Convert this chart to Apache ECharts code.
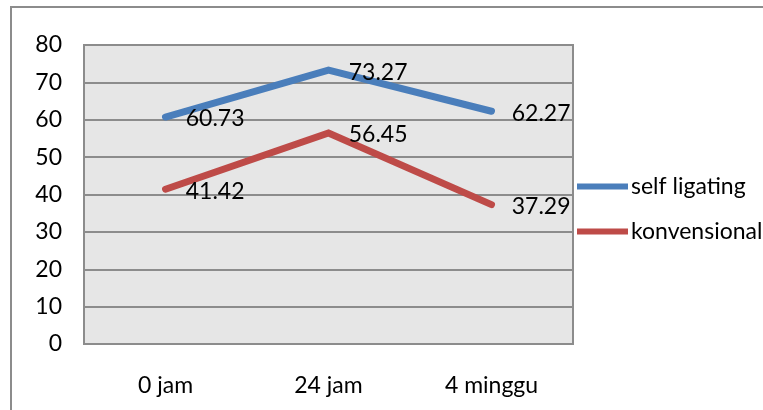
<!DOCTYPE html>
<html><head><meta charset="utf-8">
<script src="https://cdn.jsdelivr.net/npm/echarts@6/dist/echarts.min.js"></script>
<style>html,body{margin:0;padding:0;background:#fff}#c{width:763px;height:410px}</style>
</head><body><div id="c"></div>
<script>
var categories = ['0 jam', '24 jam', '4 minggu'];
var selfLigating = [60.73, 73.27, 62.27];
var konvensional = [41.42, 56.45, 37.29];
var seriesNames = ['self ligating', 'konvensional'];
var yTicks = [0, 80, 10];

var font = 'Lato';
var fs = 23;
var chart = echarts.init(document.getElementById('c'), null, {renderer: 'canvas'});
var lbl = {show: true, position: 'right', distance: 20, offset: [0, 2], color: '#000', fontSize: fs, fontFamily: font,
  formatter: function (p) { return Number(p.value).toFixed(2); }};
chart.setOption({
  animation: false,
  graphic: [{type: 'rect', shape: {x: 11, y: 7, width: 800, height: 450},
    style: {fill: 'none', stroke: '#8c8c8c', lineWidth: 2}, z: -10}],
  grid: {left: 84, top: 45, width: 489, height: 299, backgroundColor: '#e6e6e6', show: true,
    borderColor: '#8c8c8c', borderWidth: 2},
  legend: {orient: 'vertical', left: 577, top: 175, padding: 0, itemGap: 22, itemWidth: 51, itemHeight: 6,
    icon: 'rect', textStyle: {fontSize: fs, fontFamily: font, color: '#000', padding: [0, 0, 0, -2]},
    data: seriesNames},
  xAxis: {type: 'category', data: categories, boundaryGap: true,
    axisLine: {show: false}, axisTick: {show: false},
    axisLabel: {margin: 30, fontSize: fs, fontFamily: font, color: '#000'}},
  yAxis: {type: 'value', min: yTicks[0], max: yTicks[1], interval: yTicks[2],
    axisLine: {show: false}, axisTick: {show: false},
    axisLabel: {margin: 22, fontSize: fs, fontFamily: font, color: '#000'},
    splitLine: {lineStyle: {color: '#8c8c8c', width: 2}}},
  series: [
    {name: seriesNames[0], type: 'line', data: selfLigating, symbol: 'circle', symbolSize: 0.5, showSymbol: true,
      color: '#4a7ebb',
      lineStyle: {width: 7, cap: 'round', join: 'miter', color: '#4a7ebb'}, label: lbl},
    {name: seriesNames[1], type: 'line', data: konvensional, symbol: 'circle', symbolSize: 0.5, showSymbol: true,
      color: '#be4b48',
      lineStyle: {width: 7, cap: 'round', join: 'miter', color: '#be4b48'}, label: lbl}
  ]
});
</script></body></html>
